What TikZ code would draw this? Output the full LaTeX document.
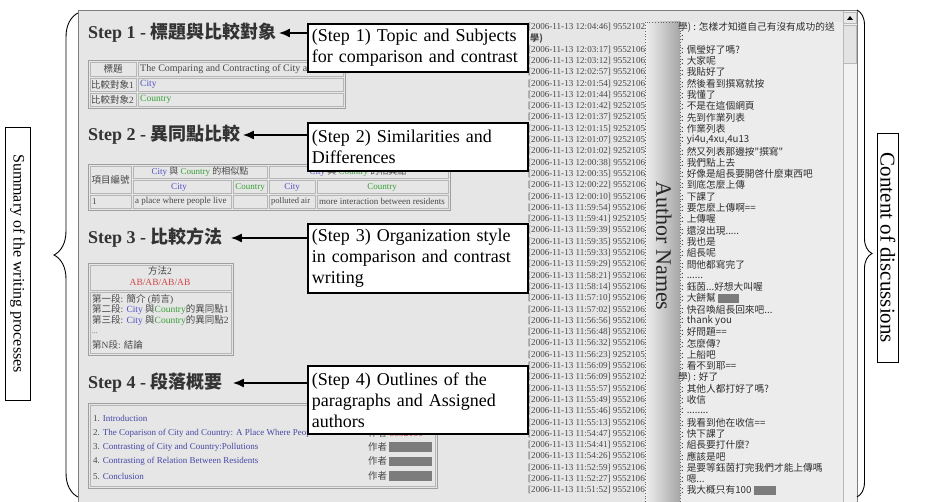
\documentclass[tikz,border=0pt]{standalone}
\usepackage{fontspec}
\setmainfont{Liberation Serif}
\newfontfamily\cjk{Noto Sans CJK TC}
\usetikzlibrary{arrows.meta,decorations.pathreplacing}
\definecolor{panelbg}{HTML}{E6E6E6}
\definecolor{chatbg}{HTML}{ECECEC}
\definecolor{frameline}{HTML}{7E7E7E}
\definecolor{headtext}{HTML}{333333}
\definecolor{cellline}{HTML}{B6B6B6}
\definecolor{cityblue}{HTML}{5050C8}
\definecolor{countrygreen}{HTML}{38A038}
\definecolor{abred}{HTML}{D04848}
\definecolor{linkblue}{HTML}{4646A6}
\definecolor{stamp}{HTML}{484848}
\definecolor{chattext}{HTML}{2E2E2E}
\definecolor{redact}{HTML}{7C7C7C}
\newcommand{\zh}[1]{{\cjk #1}}
\newcommand{\cityw}{\textcolor{cityblue}{City}}
\newcommand{\countryw}{\textcolor{countrygreen}{Country}}
\newcommand{\redbar}[1]{\textcolor{redact}{\rule[-1.5pt]{#1}{9.5pt}}}

\begin{document}
\begin{tikzpicture}[x=1pt,y=-1pt,
  annot/.style={draw=black, line width=1.8pt, fill=white, anchor=north west, align=left,
    text width=212pt, inner xsep=4pt, inner ysep=2pt, font=\fontsize{18}{21}\selectfont},
  stephead/.style={anchor=west, inner sep=2pt, text=headtext, font=\fontsize{18}{20}\selectfont\bfseries},
  pointer/.style={line width=1.6pt, -{Latex[length=11pt,width=9pt]}},
  sidelabel/.style={draw=black, line width=0.8pt, rotate=-90, inner sep=0pt},
  sidebrace/.style={decorate, line width=0.9pt, decoration={brace, amplitude=#1}},
  cell/.style={draw=cellline, line width=0.6pt},
  frame/.style={draw=gray!75, line width=0.6pt},
  small/.style={inner sep=0pt, text=stamp, font=\fontsize{9.5}{10}\selectfont},
  tsmall/.style={inner sep=0pt, text=stamp, font=\fontsize{9}{10}\selectfont},
  stampt/.style={anchor=west, inner sep=0pt, text=stamp, font=\fontsize{9.1}{10}\selectfont},
  chatline/.style={anchor=west, inner sep=0pt, text=chattext, font=\cjk\fontsize{9.7}{10}\selectfont},
]
\useasboundingbox (0,0) rectangle (929,502);

% ---------- application window ----------
\fill[panelbg] (78,10) rectangle (858,502);
\fill[chatbg] (680,22) rectangle (843,502);
\draw[frameline, line width=1.4pt] (78.7,502) -- (78.7,10.7) -- (857.5,10.7) -- (857.5,502);

% ---------- step 1 table ----------
\draw[frame] (88,60) rectangle (345,108);
\foreach \a/\b/\c/\d in {90/62/136/76, 138/62/343/76, 90/78/136/91, 138/78/343/91, 90/93/136/106, 138/93/343/106}
  \draw[cell] (\a,\b) rectangle (\c,\d);
\node[small] (t1k1) at (113,69) {\zh{標題}};
\node[small, anchor=west, font=\fontsize{10}{10}\selectfont] (t1v1) at (140,69) {The Comparing and Contracting of City and Country};
\node[small, anchor=west] (t1k2) at (91,84.5) {\zh{比較對象}1};
\node[small, anchor=west] (t1v2) at (140,84.5) {\cityw};
\node[small, anchor=west] (t1k3) at (91,99.5) {\zh{比較對象}2};
\node[small, anchor=west] (t1v3) at (140,99.5) {\countryw};

% ---------- step 2 table ----------
\draw[frame] (88,164) rectangle (450,210);
\foreach \a/\b/\c/\d in {90/166/131/193, 133/166/267/178, 269/166/448/178, 133/180/231/193, 233/180/267/193, 269/180/315/193, 317/180/448/193, 90/195/131/208, 133/195/231/208, 233/195/267/208, 269/195/315/208, 317/195/448/208}
  \draw[cell] (\a,\b) rectangle (\c,\d);
\node[small] (t2no) at (110.5,180) {\zh{項目編號}};
\node[tsmall] (t2same) at (200,172) {\cityw\ \zh{與} \countryw\ \zh{的相似點}};
\node[tsmall] (t2diff) at (358,172) {\cityw\ \zh{與} \countryw\ \zh{的相異點}};
\node[tsmall] (t2c1) at (179,187) {\cityw};
\node[tsmall] (t2c2) at (250,187) {\countryw};
\node[tsmall] (t2c3) at (292,187) {\cityw};
\node[tsmall] (t2c4) at (382,187) {\countryw};
\node[tsmall, anchor=west] (t2n) at (92,201.5) {1};
\node[tsmall, anchor=west] (t2a) at (135,201.5) {a place where people live};
\node[tsmall, anchor=west, font=\fontsize{8.5}{10}\selectfont] (t2b) at (271,201.5) {polluted air};
\node[tsmall, anchor=west] (t2c) at (319,201.5) {more interaction between residents};

% ---------- step 3 method box ----------
\draw[frame] (88,263) rectangle (233,355);
\draw[cell] (90,265) rectangle (231,290);
\draw[cell] (90,292) rectangle (231,353);
\node[small] (m3a) at (160,271) {\zh{方法}2};
\node[small, text=abred] (m3b) at (160,282) {AB/AB/AB/AB};
\node[small, anchor=west] (m3l1) at (92,299) {\zh{第一段}: \zh{簡介} (\zh{前言})};
\node[small, anchor=west] (m3l2) at (92,309.5) {\zh{第二段}: \cityw\ \zh{與}\countryw\zh{的異同點}1};
\node[small, anchor=west] (m3l3) at (92,320) {\zh{第三段}: \cityw\ \zh{與}\countryw\zh{的異同點}2};
\node[small, anchor=west, font=\fontsize{7}{7}\selectfont] (m3l4) at (92,333) {...};
\node[small, anchor=west] (m3l5) at (92,345) {\zh{第}N\zh{段}: \zh{結論}};

% ---------- step 4 outline list ----------
\draw[frame] (88,403) rectangle (437,488);
\draw[cell] (90,405) rectangle (435,486);
\node[tsmall, anchor=west] (o1) at (93,418) {1. \textcolor{linkblue}{Introduction}};
\node[tsmall, anchor=west] (o2) at (93,433) {2. \textcolor{linkblue}{The Coparison of City and Country: A Place Where People Live}};
\node[tsmall, anchor=west] (o3) at (93,447) {3. \textcolor{linkblue}{Contrasting of City and Country:Pollutions}};
\node[tsmall, anchor=west] (o4) at (93,461.5) {4. \textcolor{linkblue}{Contrasting of Relation Between Residents}};
\node[tsmall, anchor=west] (o5) at (93,476) {5. \textcolor{linkblue}{Conclusion}};
\node[small, anchor=west] (a2) at (368,433) {\zh{作者} \textcolor{abred}{9552106}};
\node[small, anchor=west] (a3) at (368,447) {\zh{作者}\,\redbar{43pt}};
\node[small, anchor=west] (a4) at (368,461.5) {\zh{作者}\,\redbar{43pt}};
\node[small, anchor=west] (a5) at (368,476) {\zh{作者}\,\redbar{43pt}};

% ---------- step headings ----------
\node[stephead] (h1) at (86,33) {Step 1 - \zh{標題與比較對象}};
\node[stephead] (h2) at (86,135) {Step 2 - \zh{異同點比較}};
\node[stephead] (h3) at (86,238) {Step 3 - \zh{比較方法}};
\node[stephead] (h4) at (86,383) {Step 4 - \zh{段落概要}};

% ---------- discussion log: time stamps ----------
\foreach \k/\tm/\id in {0/12:04:46/9552102, 2/12:03:17/9552106, 3/12:03:12/9552106,
  4/12:02:57/9552106, 5/12:01:54/9252106, 6/12:01:44/9552106, 7/12:01:42/9252105,
  8/12:01:37/9252105, 9/12:01:15/9252105, 10/12:01:07/9252105, 11/12:01:02/9252105,
  12/12:00:38/9552106, 13/12:00:35/9552106, 14/12:00:22/9552106, 15/12:00:10/9552106,
  16/11:59:54/9552106, 17/11:59:41/9252105, 18/11:59:39/9552106, 19/11:59:35/9552106,
  20/11:59:33/9552106, 21/11:59:29/9552106, 22/11:58:21/9552106, 23/11:58:14/9552106,
  24/11:57:10/9552106, 25/11:57:02/9552106, 26/11:56:56/9552106, 27/11:56:48/9552106,
  28/11:56:32/9552106, 29/11:56:23/9252105, 30/11:56:09/9552106, 31/11:56:09/9552102,
  32/11:55:57/9552106, 33/11:55:49/9552106, 34/11:55:46/9552106, 35/11:55:13/9552106,
  36/11:54:47/9552106, 37/11:54:41/9552106, 38/11:54:26/9552106, 39/11:52:59/9552106,
  40/11:52:27/9552106, 41/11:51:52/9552106}
  \node[stampt] (ts\k) at (528,27+11.3*\k) {[2006-11-13 \tm] \id};
\node[stampt] (ts1) at (530,38.3) {\zh{\bfseries 學)}};

% ---------- author column ----------
\shade[left color=gray!12, right color=gray!70] (645,22) rectangle (680,502);
\draw[gray!80!black, dotted, line width=0.8pt] (645,502) -- (645,22) -- (680,22) -- (680,502);
\node[rotate=-90, inner sep=0pt, text=black!85, font=\fontsize{22}{22}\selectfont] (authors) at (664,246) {Author Names};

% ---------- discussion log: messages ----------
\node[chatline] (c0) at (678,27) {學) : 怎樣才知道自己有沒有成功的送};
\node[chatline] (c1) at (681,38.3) {:};
\node[chatline] (c31) at (678,27+11.3*31) {學) : 好了};
\foreach \k/\msg in {2/佩瑩好了嗎?, 3/大家呢, 4/我貼好了, 5/然後看到撰寫就按, 6/我懂了,
  7/不是在這個網頁, 8/先到作業列表, 9/作業列表, 10/{yi4u,4xu,4u13}, 11/然又列表那邊按"撰寫",
  12/我們點上去, 13/好像是組長要開啓什麼東西吧, 14/到底怎麼上傳, 15/下課了, 16/要怎麼上傳啊==,
  17/上傳喔, 18/{還沒出現.....}, 19/我也是, 20/組長呢, 21/問他都寫完了, 22/{......},
  23/{鈺茵...好想大叫喔}, 24/{大餅幫 \redbar{21pt}}, 25/{快召喚組長回來吧...}, 26/thank you,
  27/好問題==, 28/怎麼傳?, 29/上船吧, 30/看不到耶==, 32/其他人都打好了嗎?, 33/收信,
  34/{........}, 35/我看到他在收信==, 36/快下課了, 37/組長要打什麼?, 38/應該是吧,
  39/是要等鈺茵打完我們才能上傳嗎, 40/{嗯...}, 41/{我大概只有100 \redbar{22pt}}}
  \node[chatline] (c\k) at (681,27+11.3*\k) {: \msg};

% ---------- scroll bar ----------
\fill[gray!10] (843,11.5) rectangle (857,502);
\draw[gray!55] (843,11.5) -- (843,502);
\draw[fill=gray!18, draw=gray!55] (843.5,12) rectangle (856.5,23);
\fill[black] (847,20) -- (853,20) -- (850,16) -- cycle;
\draw[fill=gray!22, draw=gray!55] (843.5,25) rectangle (856.5,63);

% ---------- call-out boxes ----------
\node[annot, minimum height=48pt] (b1) at (307,23) {(Step 1) Topic and Subjects\\for comparison and contrast};
\node[annot, minimum height=48pt] (b2) at (307,122) {(Step 2) Similarities and\\Differences};
\node[annot, minimum height=69pt] (b3) at (307,223) {(Step 3) Organization style\\in comparison and contrast\\writing};
\node[annot, minimum height=68pt] (b4) at (307,365) {(Step 4) Outlines of the\\paragraphs and Assigned\\authors};

\draw[pointer] (b1.west |- h1.east) -- (h1.east);
\draw[pointer] (b2.west |- h2.east) -- (h2.east);
\draw[pointer] (b3.west |- h3.east) -- ([xshift=6pt]h3.east);
\draw[pointer] (b4.west |- h4.east) -- ([xshift=8pt]h4.east);

% ---------- side labels and braces ----------
\draw[sidebrace=24pt] (78,497) -- (78,13);
\draw[sidebrace=15pt] (857,10) -- (857,497);
\node[sidelabel, minimum width=273pt, minimum height=25pt, font=\fontsize{16}{18}\selectfont] (sumlabel) at (17.5,263.5) {Summary of the writing processes};
\node[sidelabel, minimum width=229pt, minimum height=21pt, text height=14pt, text depth=0pt, font=\fontsize{21}{22}\selectfont] (discusslabel) at (887.5,248) {Content of discussions};
\end{tikzpicture}
\end{document}
